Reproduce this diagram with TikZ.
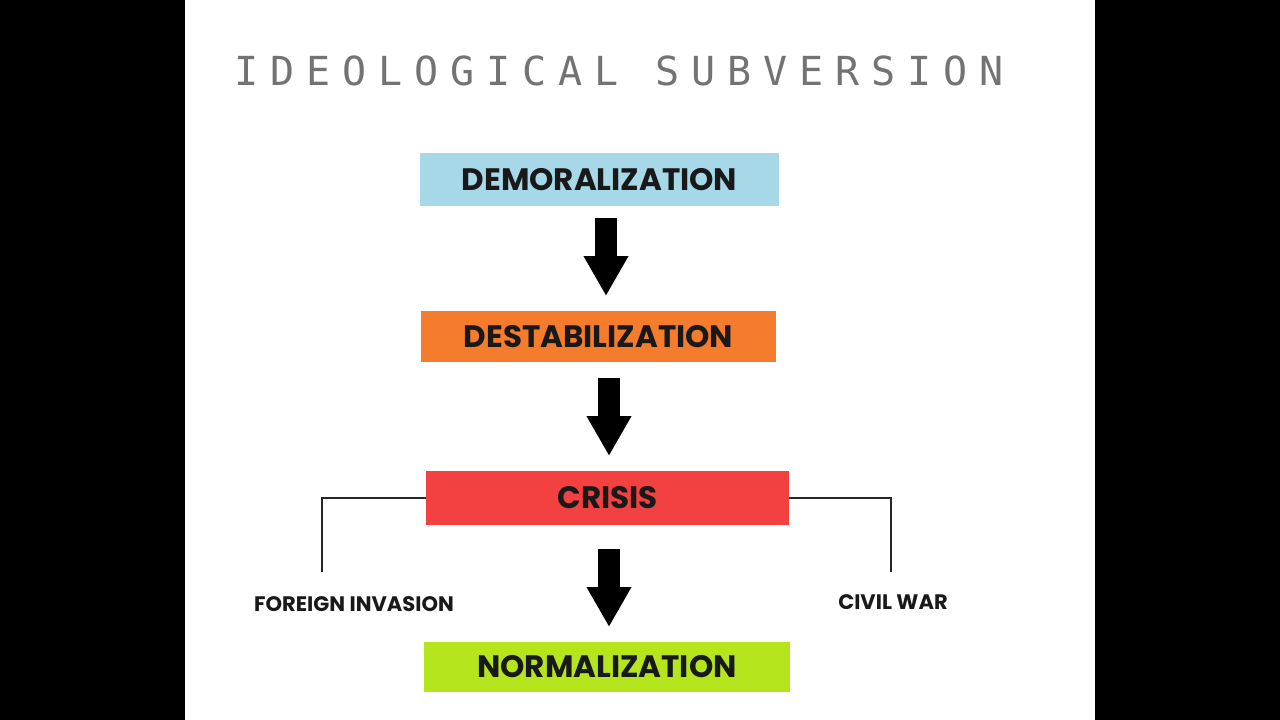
\documentclass[tikz,border=0pt]{standalone}
\usepackage{fontspec}
\setmainfont{Poppins}
\newfontfamily\titlefont[LetterSpace=30]{DejaVu Sans Mono}
\usetikzlibrary{arrows.meta}
\definecolor{demblue}{RGB}{166,216,232}
\definecolor{desorange}{RGB}{244,124,44}
\definecolor{crisred}{RGB}{243,64,64}
\definecolor{normlime}{RGB}{181,230,29}
\tikzset{every picture/.style={line width=0.75pt}}
\tikzset{
  stage/.style={minimum height=52pt, font=\fontsize{31}{34}\selectfont\bfseries, text=black!90},
  blockarrow/.style={line width=22pt, -{Triangle[length=40pt,width=42pt]}},
  branch/.style={line width=2pt, black!85},
  outcome/.style={font=\fontsize{21}{24}\selectfont\bfseries, text=black!90}
}
\begin{document}
\begin{tikzpicture}[x=1pt,y=1pt,yscale=-1,xscale=1]
% background and page
\fill[black] (0,0) rectangle (1280,720);
\fill[white] (185,0) rectangle (1095,720);
\useasboundingbox (0,0) rectangle (1280,720);

% Title
\node (title) at (619,71) [font=\titlefont\fontsize{40}{44}\selectfont, text=black!55] {IDEOLOGICAL SUBVERSION};

% Stages
\node (dem) at (599.5,179.5) [stage, fill=demblue, minimum width=359pt, minimum height=53pt] {DEMORALIZATION};
\node (des) at (598.5,336.5) [stage, fill=desorange, minimum width=355pt, minimum height=51pt] {DESTABILIZATION};
\node (cri) at (607.5,498) [stage, fill=crisred, minimum width=363pt, minimum height=54pt] {CRISIS};
\node (nor) at (607,667) [stage, fill=normlime, minimum width=366pt, minimum height=50pt] {NORMALIZATION};

% Block arrows
\draw[blockarrow] (606,218) -- (606,296);
\draw[blockarrow] (609,378) -- (609,456);
\draw[blockarrow] (609,549) -- (609,627);

% Branches
\coordinate (fiend) at (322,572);
\coordinate (cwend) at (891,572);
\draw[branch] (cri.west) -| (fiend);
\draw[branch] (cri.east) -| (cwend);

% Outcomes
\node (fi) at (354,604) [outcome] {FOREIGN INVASION};
\node (cw) at (893,602) [outcome] {CIVIL WAR};

\end{tikzpicture}
\end{document}
